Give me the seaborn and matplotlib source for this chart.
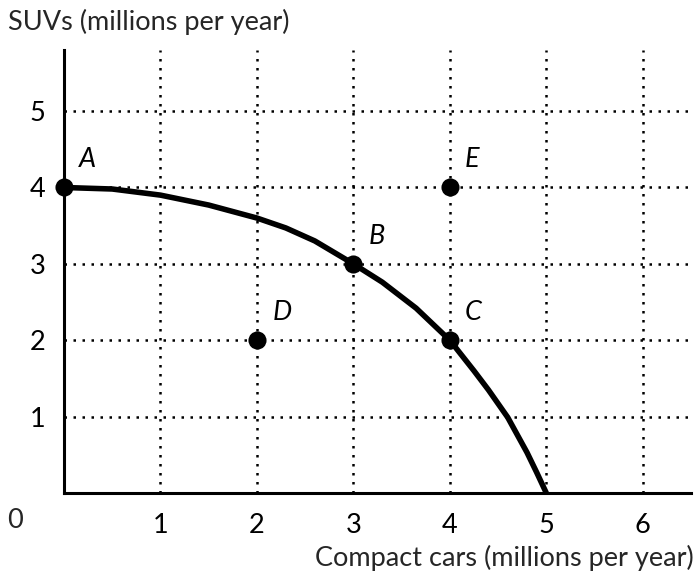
import matplotlib
matplotlib.use("Agg")
import matplotlib.pyplot as plt
import seaborn as sns
import pandas as pd

# PPF curve
curve_x = [0, 0.5, 1, 1.5, 2, 2.3, 2.6, 3, 3.3, 3.65, 4, 4.25, 4.4, 4.6, 4.8, 4.9, 5]
curve_y = [4, 3.98, 3.9, 3.77, 3.6, 3.47, 3.3, 3, 2.76, 2.42, 2, 1.6, 1.35, 0.99, 0.53, 0.27, 0]

# labelled points
point_names = ["A", "B", "C", "D", "E"]
point_x = [0, 3, 4, 2, 4]
point_y = [4, 3, 2, 2, 4]

x_ticks = [1, 2, 3, 4, 5, 6]
y_ticks = [1, 2, 3, 4, 5]
x_label = "Compact cars (millions per year)"
y_label = "SUVs (millions per year)"

sns.set_theme(style="white")
plt.rcParams["font.family"] = ["Lato", "DejaVu Sans"]

FS = 19.5

fig = plt.figure(figsize=(6.98, 5.8), dpi=100)
ax = fig.add_axes([64 / 698, 1 - 493 / 580, (691 - 64) / 698, (493 - 50) / 580])

# grid
for xv in x_ticks:
    ax.axvline(xv, color="black", lw=1.8, ls=(0, (1, 2.6)), zorder=1)
for yv in y_ticks:
    ax.axhline(yv, color="black", lw=1.8, ls=(0, (1, 2.6)), zorder=1)

curve_df = pd.DataFrame({"x": curve_x, "y": curve_y})
sns.lineplot(data=curve_df, x="x", y="y", ax=ax, color="black", lw=4.0,
             sort=False, zorder=3, solid_capstyle="butt", solid_joinstyle="round")

pts = pd.DataFrame({"x": point_x, "y": point_y, "name": point_names})
sns.scatterplot(data=pts, x="x", y="y", ax=ax, color="black", s=170,
                edgecolor="black", linewidth=0, zorder=4, clip_on=False)
for n, xv, yv in zip(point_names, point_x, point_y):
    ax.annotate(n, (xv, yv), xytext=(11, 11), textcoords="offset points",
                fontsize=FS, style="italic", color="black", ha="left", va="bottom")

ax.set_xlim(0, 6.5)
ax.set_ylim(0, 5.8)
ax.set_xticks(x_ticks)
ax.set_yticks(y_ticks)
ax.set_xticklabels([str(v) for v in x_ticks], fontsize=FS)
ax.set_yticklabels([str(v) for v in y_ticks], fontsize=FS)
ax.tick_params(axis="both", direction="inout", length=11, width=1.5,
               color="black", labelcolor="black")
ax.tick_params(axis="x", pad=9)
ax.tick_params(axis="y", pad=8)
ax.set_xlabel("")
ax.set_ylabel("")

for side in ["top", "right"]:
    ax.spines[side].set_visible(False)
for side in ["left", "bottom"]:
    ax.spines[side].set_color("black")
    ax.spines[side].set_linewidth(2.2)

fig.text(8 / 698, 1 - 22 / 580, y_label, fontsize=FS, ha="left", va="center")
fig.text(694 / 698, 1 - 558 / 580, x_label, fontsize=FS, ha="right", va="center")
fig.text(15 / 698, 1 - 521 / 580, "0", fontsize=FS, ha="center", va="center")

fig.savefig("out.png", dpi=100)
